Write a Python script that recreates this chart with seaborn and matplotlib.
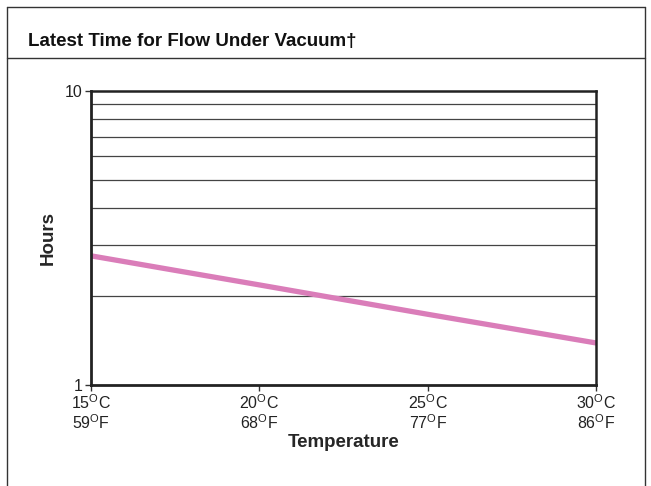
import matplotlib
matplotlib.use("Agg")
import matplotlib.pyplot as plt
from matplotlib.lines import Line2D
import seaborn as sns
import pandas as pd
from matplotlib.ticker import FixedLocator, NullFormatter

# Data
temps_c = [15, 20, 25, 30]
temps_f = [59, 68, 77, 86]
hours = [2.75, 2.19, 1.74, 1.39]
tick_labels = [f"{c}$^{{\\mathrm{{O}}}}$C\n{f}$^{{\\mathrm{{O}}}}$F" for c, f in zip(temps_c, temps_f)]
title = "Latest Time for Flow Under Vacuum\u2020"

sns.set_style("white")
plt.rcParams['font.family'] = ['Liberation Sans', 'DejaVu Sans']
plt.rcParams['mathtext.fontset'] = 'custom'
plt.rcParams['mathtext.rm'] = 'Liberation Sans'

df = pd.DataFrame({"Temperature": temps_c, "Hours": hours})

fig = plt.figure(figsize=(6.51, 4.86), dpi=100)
ax = fig.add_axes([91/651, 1-385/486, (596-91)/651, (385-91)/486])

sns.lineplot(data=df, x="Temperature", y="Hours", ax=ax, color="#DA7DB9", linewidth=3.8)

ax.set_yscale("log")
ax.set_ylim(1, 10)
ax.set_xlim(15, 30)
ax.yaxis.set_major_locator(FixedLocator([1, 10]))
ax.set_yticklabels(["1", "10"])
ax.yaxis.set_minor_locator(FixedLocator([2, 3, 4, 5, 6, 7, 8, 9]))
ax.yaxis.set_minor_formatter(NullFormatter())
ax.set_xticks(temps_c)
ax.set_xticklabels(tick_labels, linespacing=1.05)

ax.grid(True, which="minor", axis="y", color="#444444", linewidth=0.9)
ax.grid(False, which="major", axis="x")
ax.tick_params(which="minor", length=0)
ax.tick_params(which="major", direction="out", length=4, width=1, color="#333333",
               labelsize=11.5, labelcolor="#222222", pad=2, left=True, bottom=True)
for s in ["left", "bottom"]:
    ax.spines[s].set_color("#222222")
    ax.spines[s].set_linewidth(2.0)
for s in ["top", "right"]:
    ax.spines[s].set_color("#222222")
    ax.spines[s].set_linewidth(1.8)

ax.set_xlabel("Temperature", fontsize=13.5, fontweight="bold", labelpad=2)
ax.set_ylabel("Hours", fontsize=13.5, fontweight="bold", labelpad=6)

# Outer frame and title band
lc = "#333333"
fig.add_artist(Line2D([7/651, 645/651], [1-7/486, 1-7/486], color=lc, lw=1.0))
fig.add_artist(Line2D([7/651, 645/651], [1-58/486, 1-58/486], color=lc, lw=1.0))
fig.add_artist(Line2D([7/651, 7/651], [0, 1-7/486], color=lc, lw=1.0))
fig.add_artist(Line2D([645/651, 645/651], [0, 1-7/486], color=lc, lw=1.0))
fig.text(28/651, 1-42/486, title, fontsize=13.5, fontweight="bold", va="center", ha="left",
         color="#111111")

fig.savefig("out.png", dpi=100)
